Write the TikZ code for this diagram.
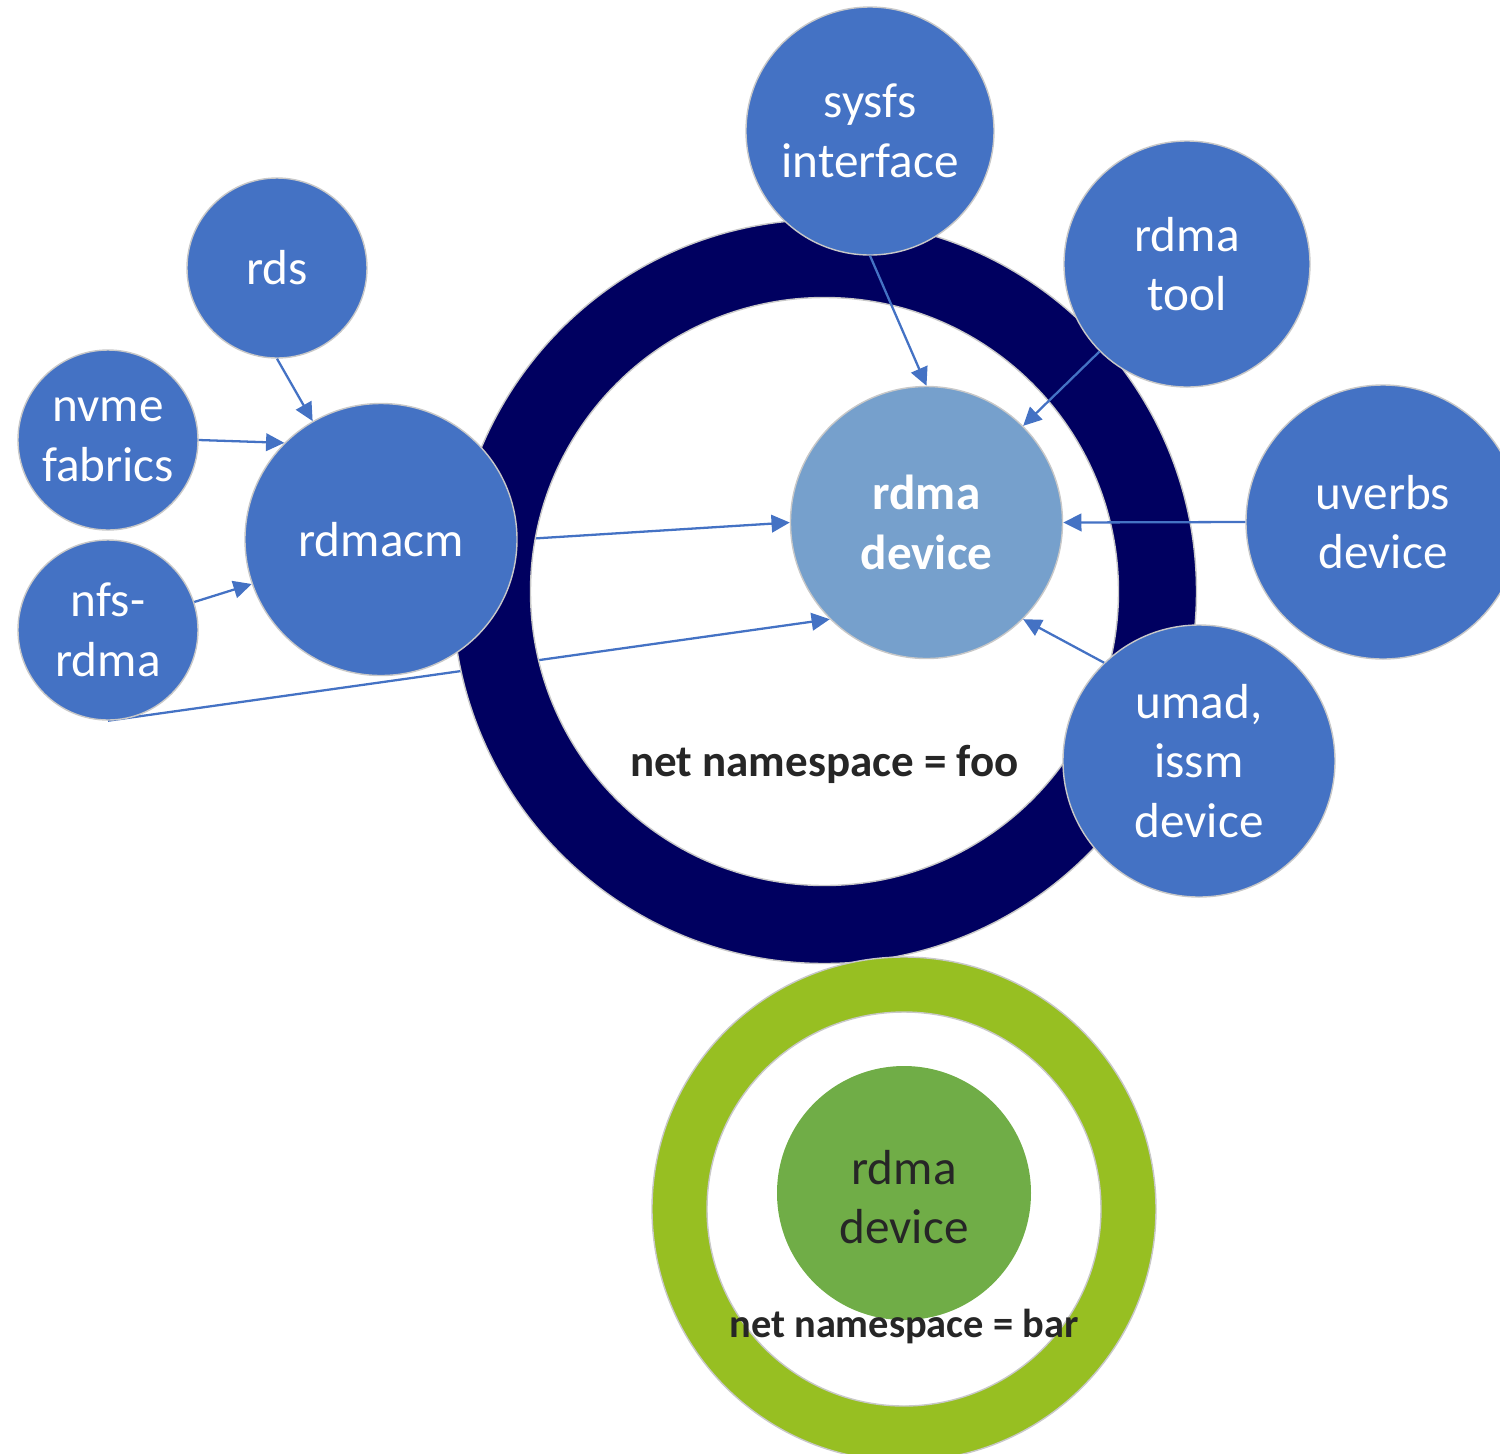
\documentclass[tikz,border=0pt]{standalone}
\usepackage{fontspec}
\setmainfont{Carlito}
\usetikzlibrary{arrows.meta}
\definecolor{cblue}{HTML}{4472C4}
\definecolor{clight}{HTML}{76A0CC}
\definecolor{cnavy}{HTML}{000060}
\definecolor{cring}{HTML}{97BF22}
\definecolor{cgreen}{HTML}{70AD47}
\definecolor{cdark}{HTML}{262626}
\definecolor{cedge}{HTML}{C8C8C8}
\pgfdeclarelayer{under}
\pgfdeclarelayer{ring}
\pgfsetlayers{under,ring,main}
\begin{document}
\begin{tikzpicture}[x=1cm,y=1cm,
  bub/.style={circle, fill=cblue, draw=cedge, line width=0.4pt, inner sep=0pt,
    text=white, align=center, font=\fontsize{14}{17}\selectfont},
  arr/.style={draw=cblue, line width=0.65pt, -{Triangle[length=5.2pt,width=5pt]}},
  nslabel/.style={text=cdark, inner sep=0pt}
]
\useasboundingbox (0,0) rectangle (15,-14.54);
\clip (0,0) rectangle (15,-14.54);

% nodes
\node[bub, minimum size=2.48cm] (sysfs) at (8.70,-1.31) {sysfs\\interface};
\node[bub, minimum size=2.46cm] (tool) at (11.87,-2.64) {rdma\\tool};
\node[bub, minimum size=1.80cm] (rds) at (2.77,-2.68) {rds};
\node[bub, minimum size=1.80cm] (nvme) at (1.08,-4.40) {nvme\\fabrics};
\node[bub, minimum size=1.80cm] (nfs) at (1.08,-6.30) {nfs-\\rdma};
\node[bub, minimum size=2.72cm] (rdmacm) at (3.81,-5.395) {rdmacm};
\node[bub, fill=clight, minimum size=2.72cm, font=\fontsize{14}{17}\selectfont\bfseries] (dev) at (9.265,-5.225) {rdma\\device};
\node[bub, minimum size=2.74cm] (uverbs) at (13.83,-5.22) {uverbs\\device};
\node[bub, minimum size=2.72cm] (umad) at (11.99,-7.61) {umad,\\issm\\device};

% namespace foo ring
\coordinate (nsfoo) at (8.245,-5.915);
\begin{pgfonlayer}{ring}
\path[fill=cnavy, draw=cedge, line width=0.4pt, even odd rule]
  (nsfoo) circle[radius=3.72] (nsfoo) circle[radius=2.94];
\end{pgfonlayer}
\node[nslabel, font=\fontsize{12.8}{15}\selectfont\bfseries] (foolabel) at (8.245,-7.64) {net namespace = foo};

% arrows hidden by the ring
\begin{pgfonlayer}{under}
\draw[arr] (rdmacm.0) -- (dev.180);
\draw[arr] (nfs.-90) -- (dev.225);
\end{pgfonlayer}

% arrows
\draw[arr] (rds.-90) -- (rdmacm.120);
\draw[arr] (nvme.0) -- (rdmacm.135);
\draw[arr] (nfs.18) -- (rdmacm.199);
\draw[arr] (sysfs.-90) -- (dev.90);
\draw[arr] (tool.225) -- (dev.45);
\draw[arr] (uverbs.180) -- (dev.0);
\draw[arr] (umad.134) -- (dev.-45);

% namespace bar
\coordinate (nsbar) at (9.04,-12.09);
\path[fill=cring, draw=cedge, line width=0.4pt, even odd rule]
  (nsbar) circle[radius=2.52] (nsbar) circle[radius=1.97];
\node[bub, fill=cgreen, draw=none, minimum size=2.54cm] (gdev) at (9.04,-11.93) {};
\node[text=cdark, align=center, inner sep=0pt, font=\fontsize{14}{17}\selectfont] (gdevtext) at (9.04,-11.97) {rdma\\device};
\node[nslabel, font=\fontsize{11.5}{14}\selectfont\bfseries] (barlabel) at (9.04,-13.26) {net namespace = bar};
\end{tikzpicture}
\end{document}
